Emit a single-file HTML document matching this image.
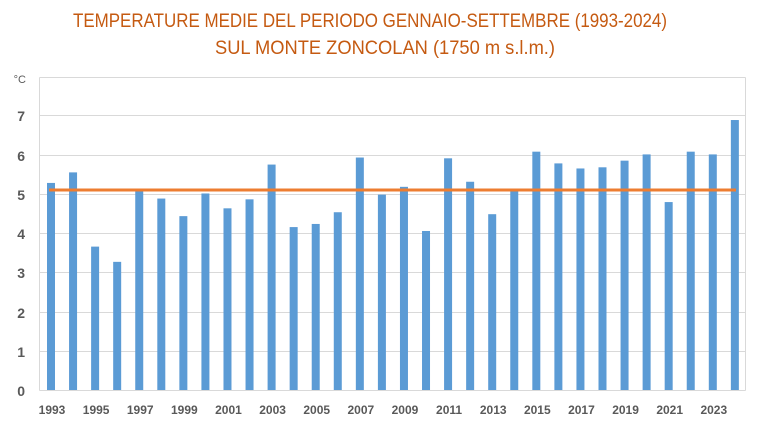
<!DOCTYPE html>
<html><head><meta charset="utf-8"><style>body{margin:0;background:#fff}svg{display:block}</style></head>
<body>
<svg width="762" height="430" xmlns="http://www.w3.org/2000/svg" font-family="Liberation Sans, sans-serif">
<rect width="762" height="430" fill="#fff"/>
<text x="370" y="27" text-anchor="middle" font-size="19" fill="#C55A11" textLength="594" lengthAdjust="spacingAndGlyphs">TEMPERATURE MEDIE DEL PERIODO GENNAIO-SETTEMBRE (1993-2024)</text>
<text x="385" y="54" text-anchor="middle" font-size="19" fill="#C55A11" textLength="340" lengthAdjust="spacingAndGlyphs">SUL MONTE ZONCOLAN (1750 m s.l.m.)</text>
<g stroke="#d9d9d9" stroke-width="1">
<line x1="39.5" y1="77.5" x2="745.5" y2="77.5"/>
<line x1="39.5" y1="115.5" x2="745.5" y2="115.5"/>
<line x1="39.5" y1="155.5" x2="745.5" y2="155.5"/>
<line x1="39.5" y1="194.5" x2="745.5" y2="194.5"/>
<line x1="39.5" y1="233.5" x2="745.5" y2="233.5"/>
<line x1="39.5" y1="272.5" x2="745.5" y2="272.5"/>
<line x1="39.5" y1="312.5" x2="745.5" y2="312.5"/>
<line x1="39.5" y1="351.5" x2="745.5" y2="351.5"/>
<line x1="39.5" y1="390.5" x2="745.5" y2="390.5"/>
<line x1="39.5" y1="77.5" x2="39.5" y2="390.5"/>
<line x1="745.5" y1="77.5" x2="745.5" y2="390.5"/>
</g>
<g fill="#5B9BD5" id="bars"></g>
<line x1="49" y1="190" x2="736" y2="190" stroke="#ED7D31" stroke-width="3"/>
<g font-size="14" font-weight="bold" fill="#595959" text-anchor="end">
<text x="25" y="396">0</text><text x="25" y="357">1</text><text x="25" y="318">2</text><text x="25" y="278">3</text><text x="25" y="239">4</text><text x="25" y="200">5</text><text x="25" y="161">6</text><text x="25" y="121">7</text>
<text x="26" y="83" font-size="11" font-weight="normal">°C</text>
</g>
<g font-size="12" font-weight="bold" fill="#595959" text-anchor="middle" id="xl"></g>
<script>
var v=[5.3,5.57,3.67,3.28,5.1,4.9,4.45,5.03,4.65,4.88,5.77,4.17,4.25,4.55,5.95,5.0,5.2,4.07,5.93,5.33,4.5,5.15,6.1,5.8,5.67,5.7,5.87,6.03,4.81,6.1,6.03,6.91];
var b=document.getElementById('bars'),x=document.getElementById('xl'),ns='http://www.w3.org/2000/svg';
v.forEach(function(d,i){var cx=51+i*22.06,h=d*39.07;var r=document.createElementNS(ns,'rect');r.setAttribute('x',cx-4);r.setAttribute('y',390-h);r.setAttribute('width',8);r.setAttribute('height',h);b.appendChild(r);
if(i%2==0){var t=document.createElementNS(ns,'text');t.setAttribute('x',cx+1);t.setAttribute('y',414);t.textContent=1993+i;x.appendChild(t);}});
</script>
</svg>
</body></html>
